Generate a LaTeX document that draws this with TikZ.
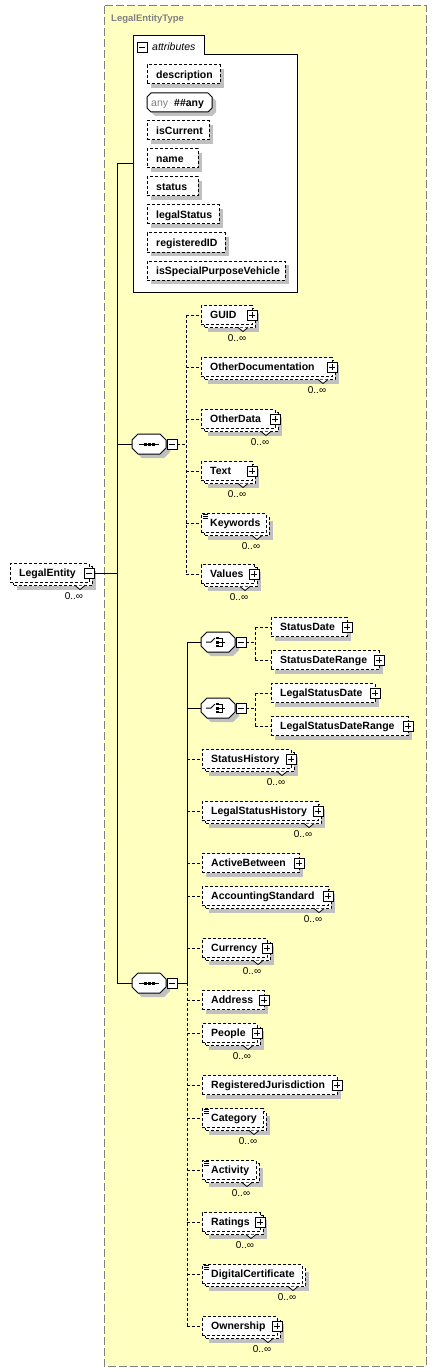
\documentclass[tikz,border=0pt]{standalone}
\usepackage{fontspec}
\setmainfont{Liberation Sans}
\definecolor{bgy}{RGB}{255,255,192}
\definecolor{shd}{RGB}{192,192,192}
\definecolor{frm}{RGB}{128,128,128}
\tikzset{
  conn/.style={line width=1pt, draw=black},
  dconn/.style={conn, dash pattern=on 3pt off 2pt},
  ebox/.style={draw=black, fill=white, line width=1pt, dash pattern=on 3pt off 2pt},
  boxnode/.style={ebox, inner sep=0, outer sep=0, minimum height=19pt, anchor=west},
  etext/.style={font=\bfseries\fontsize{10.5}{12}\selectfont, inner sep=0, anchor=base west},
  occ/.style={font=\fontsize{10}{12}\selectfont, inner sep=0},
  pmbase/.style={draw=black, fill=white, line width=0.8pt, minimum size=10pt, inner sep=0, outer sep=0},
  plusbox/.style={pmbase, path picture={\draw[line width=0.8pt] ([xshift=-3pt]path picture bounding box.center) -- ([xshift=3pt]path picture bounding box.center) ([yshift=-3pt]path picture bounding box.center) -- ([yshift=3pt]path picture bounding box.center);}},
  minusbox/.style={pmbase, path picture={\draw[line width=0.8pt] ([xshift=-3pt]path picture bounding box.center) -- ([xshift=3pt]path picture bounding box.center);}},
}
\newcommand{\ElSingle}[5]{%
  \fill[shd] ({#2+4},{#4-5.5}) rectangle ({#3+4},{#4+13.5});
  \node[boxnode, minimum width={#3-#2}] (#1) at (#2,#4) {};
  \node[etext] at ({#2+9},{#4+3.8}) {#5};
}
\newcommand{\ElMulti}[5]{%
  \fill[shd] ({#2+7},{#4-2.5}) rectangle ({#3+7},{#4+16.5});
  \draw[ebox] ({#2+3},{#4-6.5}) rectangle ({#3+3},{#4+12.5});
  \fill[white] ({#3-14},{#4+12.5}) -- ({#3-9},{#4+16.5}) -- ({#3-4},{#4+12.5}) -- cycle;
  \draw[line width=0.8pt] ({#3-14},{#4+12.5}) -- ({#3-9},{#4+16.5}) -- ({#3-4},{#4+12.5});
  \node[boxnode, minimum width={#3-#2}] (#1) at (#2,#4) {};
  \node[etext] at ({#2+9},{#4+3.8}) {#5};
  \node[occ] at ({#3-15},{#4+23}) {0..∞};
}
\newcommand{\SimpleIcon}[1]{%
  \draw[line width=0.7pt] ([xshift=2pt,yshift=-1pt]#1.north west) -- ++(5,0) ++(-5,2) -- ++(5,0) ++(-5,2) -- ++(5,0);
}
\newcommand{\Octa}[3]{% name, left x, center y
  \fill[shd] ({#2+10},{#3-6}) -- ({#2+32},{#3-6}) -- ({#2+38},{#3}) -- ({#2+38},{#3+8}) -- ({#2+32},{#3+14}) -- ({#2+10},{#3+14}) -- ({#2+4},{#3+8}) -- ({#2+4},{#3}) -- cycle;
  \draw[line width=1pt, fill=white] ({#2+6},{#3-10}) -- ({#2+28},{#3-10}) -- ({#2+34},{#3-4}) -- ({#2+34},{#3+4}) -- ({#2+28},{#3+10}) -- ({#2+6},{#3+10}) -- (#2,{#3+4}) -- (#2,{#3-4}) -- cycle;
  \node[inner sep=0, outer sep=0, minimum width=34pt, minimum height=20pt, anchor=west] (#1) at (#2,#3) {};
  \node[minusbox] (#1-pm) at ({#2+40},#3) {};
}
\newcommand{\SeqSym}[3]{%
  \Octa{#1}{#2}{#3}
  \draw[line width=1pt] ({#2+7},#3) -- ({#2+27},#3);
  \fill ({#2+11.5},{#3-1.5}) rectangle ++(3,3);
  \fill ({#2+15.5},{#3-1.5}) rectangle ++(3,3);
  \fill ({#2+19.5},{#3-1.5}) rectangle ++(3,3);
}
\newcommand{\ChoiceSym}[3]{%
  \Octa{#1}{#2}{#3}
  \draw[line width=1pt] ({#2+5},#3) -- ({#2+10},#3) -- ({#2+14},{#3-4});
  \fill ({#2+15},{#3-5.2}) rectangle ++(2.6,2.6);
  \fill ({#2+15},{#3-1.5}) rectangle ++(2.6,3);
  \fill ({#2+15},{#3+2.6}) rectangle ++(2.6,2.6);
  \draw[line width=0.8pt] ({#2+17},{#3-3.9}) -- ({#2+21},{#3-3.9}) -- ({#2+21},{#3+3.9}) -- ({#2+17},{#3+3.9});
  \draw[line width=0.8pt] ({#2+17},#3) -- ({#2+24},#3);
}
\begin{document}
\begin{tikzpicture}[x=1pt,y=-1pt]
\useasboundingbox (0,0) rectangle (436,1372);
% type frame
\draw[fill=bgy, draw=frm, line width=1pt, dash pattern=on 8pt off 3pt] (104,6) rectangle (426,1366);
\node[font=\bfseries\fontsize{9.5}{11}\selectfont, text=frm, inner sep=0, anchor=base west] (title) at (111,21.5) {LegalEntityType};

% attributes group
\draw[line width=1pt, fill=white] (133,36) -- (204,36) -- (204,55) -- (297,55) -- (297,292) -- (133,292) -- cycle;
\node[inner sep=0, outer sep=0, minimum width=164pt, minimum height=256pt, anchor=north west] (attrs) at (133,36) {};
\node[minusbox] (attrs-pm) at (142,47) {};
\node[font=\itshape\fontsize{10.5}{12}\selectfont, inner sep=0, anchor=base west] at (152,51) {attributes};

\ElSingle{description}{147}{220}{74.5}{description}
\fill[shd] (155,97) -- (212,97) -- (216,101) -- (216,112) -- (212,116) -- (155,116) -- (151,112) -- (151,101) -- cycle;
\draw[line width=1pt, fill=white] (151,93) -- (208,93) -- (212,97) -- (212,108) -- (208,112) -- (151,112) -- (147,108) -- (147,97) -- cycle;
\node[inner sep=0, outer sep=0, minimum width=65pt, minimum height=19pt, anchor=west] (anyattr) at (147,102.5) {};
\node[font=\fontsize{10.5}{12}\selectfont, text=frm, inner sep=0, anchor=base west] at (151,106.3) {any};
\node[etext] at (174,106.3) {\#\#any};
\ElSingle{isCurrent}{147}{209}{130.5}{isCurrent}
\ElSingle{name}{147}{198}{158.5}{name}
\ElSingle{status}{147}{198}{186.5}{status}
\ElSingle{legalStatus}{147}{219}{214.5}{legalStatus}
\ElSingle{registeredID}{147}{225}{242.5}{registeredID}
\ElSingle{isSpecialPurposeVehicle}{147}{285}{270.5}{isSpecialPurposeVehicle}

% root element
\ElMulti{LegalEntity}{10}{89}{573}{LegalEntity}
\node[minusbox] (LE-pm) at (LegalEntity.east) {};

% trunk
\coordinate (trunkTop) at (117,164);
\coordinate (trunkBot) at (117,983);

% sequence 1
\SeqSym{seqA}{132}{444}
\ElMulti{GUID}{201}{252}{315}{GUID}
\node[plusbox] at (GUID.east) {};
\ElMulti{OtherDocumentation}{201}{332}{367}{OtherDocumentation}
\node[plusbox] at (OtherDocumentation.east) {};
\ElMulti{OtherData}{201}{275}{419}{OtherData}
\node[plusbox] at (OtherData.east) {};
\ElMulti{Text}{201}{252}{471}{Text}
\node[plusbox] at (Text.east) {};
\ElMulti{Keywords}{201}{266}{523}{Keywords}
\SimpleIcon{Keywords}
\ElMulti{Values}{201}{254}{574}{Values}
\node[plusbox] at (Values.east) {};

% sequence 2
\SeqSym{seqB}{132}{983}
\ChoiceSym{chA}{201}{642}
\ChoiceSym{chB}{201}{708}
\ElSingle{StatusDate}{271}{347}{627}{StatusDate}
\node[plusbox] at (StatusDate.east) {};
\ElSingle{StatusDateRange}{271}{379}{660}{StatusDateRange}
\node[plusbox] at (StatusDateRange.east) {};
\ElSingle{LegalStatusDate}{271}{375}{693}{LegalStatusDate}
\node[plusbox] at (LegalStatusDate.east) {};
\ElSingle{LegalStatusDateRange}{271}{408}{726}{LegalStatusDateRange}
\node[plusbox] at (LegalStatusDateRange.east) {};
\ElMulti{StatusHistory}{202}{291}{759}{StatusHistory}
\node[plusbox] at (StatusHistory.east) {};
\ElMulti{LegalStatusHistory}{202}{318}{811}{LegalStatusHistory}
\node[plusbox] at (LegalStatusHistory.east) {};
\ElSingle{ActiveBetween}{202}{299}{863}{ActiveBetween}
\node[plusbox] at (ActiveBetween.east) {};
\ElMulti{AccountingStandard}{202}{328}{896}{AccountingStandard}
\node[plusbox] at (AccountingStandard.east) {};
\ElMulti{Currency}{202}{267}{948}{Currency}
\node[plusbox] at (Currency.east) {};
\ElSingle{Address}{202}{264}{1000}{Address}
\node[plusbox] at (Address.east) {};
\ElMulti{People}{202}{257}{1033}{People}
\node[plusbox] at (People.east) {};
\ElSingle{RegisteredJurisdiction}{202}{337}{1085}{RegisteredJurisdiction}
\node[plusbox] at (RegisteredJurisdiction.east) {};
\ElMulti{Category}{202}{263}{1118}{Category}
\SimpleIcon{Category}
\ElMulti{Activity}{202}{256}{1170}{Activity}
\SimpleIcon{Activity}
\ElMulti{Ratings}{202}{260}{1222}{Ratings}
\node[plusbox] at (Ratings.east) {};
\ElMulti{DigitalCertificate}{202}{302}{1274}{DigitalCertificate}
\SimpleIcon{DigitalCertificate}
\ElMulti{Ownership}{202}{277}{1326}{Ownership}
\node[plusbox] at (Ownership.east) {};

% connectors: trunk
\draw[conn] (trunkTop) -- (trunkBot);
\draw[conn] (trunkTop) -- (attrs.west);
\draw[conn] (LE-pm.east) -- (LE-pm.east -| trunkTop);
\draw[conn] (seqA.west -| trunkTop) -- (seqA.west);
\draw[conn] (seqB.west -| trunkTop) -- (seqB.west);

% sequence 1 connectors
\coordinate (sA) at (186,444);
\draw[dconn] (seqA-pm.east) -- (sA);
\draw[dconn] (GUID.west -| sA) -- (Values.west -| sA);
\foreach \n in {GUID,OtherDocumentation,OtherData,Text,Keywords,Values}
  \draw[dconn] (\n.west -| sA) -- (\n.west);

% sequence 2 connectors
\coordinate (sB) at (187,983);
\draw[conn] (seqB-pm.east) -- (sB);
\draw[conn] (chA.west -| sB) -- (sB);
\draw[dconn] (sB) -- (Ownership.west -| sB);
\draw[conn] (chA.west -| sB) -- (chA.west);
\draw[conn] (chB.west -| sB) -- (chB.west);
\foreach \n in {StatusHistory,LegalStatusHistory,ActiveBetween,AccountingStandard,Currency,Address,People,RegisteredJurisdiction,Category,Activity,Ratings,DigitalCertificate,Ownership}
  \draw[dconn] (\n.west -| sB) -- (\n.west);

% choice connectors
\coordinate (cA) at (255,642);
\draw[dconn] (chA-pm.east) -- (cA);
\draw[dconn] (StatusDate.west -| cA) -- (StatusDateRange.west -| cA);
\draw[dconn] (StatusDate.west -| cA) -- (StatusDate.west);
\draw[dconn] (StatusDateRange.west -| cA) -- (StatusDateRange.west);
\coordinate (cB) at (255,708);
\draw[dconn] (chB-pm.east) -- (cB);
\draw[dconn] (LegalStatusDate.west -| cB) -- (LegalStatusDateRange.west -| cB);
\draw[dconn] (LegalStatusDate.west -| cB) -- (LegalStatusDate.west);
\draw[dconn] (LegalStatusDateRange.west -| cB) -- (LegalStatusDateRange.west);
\end{tikzpicture}
\end{document}
